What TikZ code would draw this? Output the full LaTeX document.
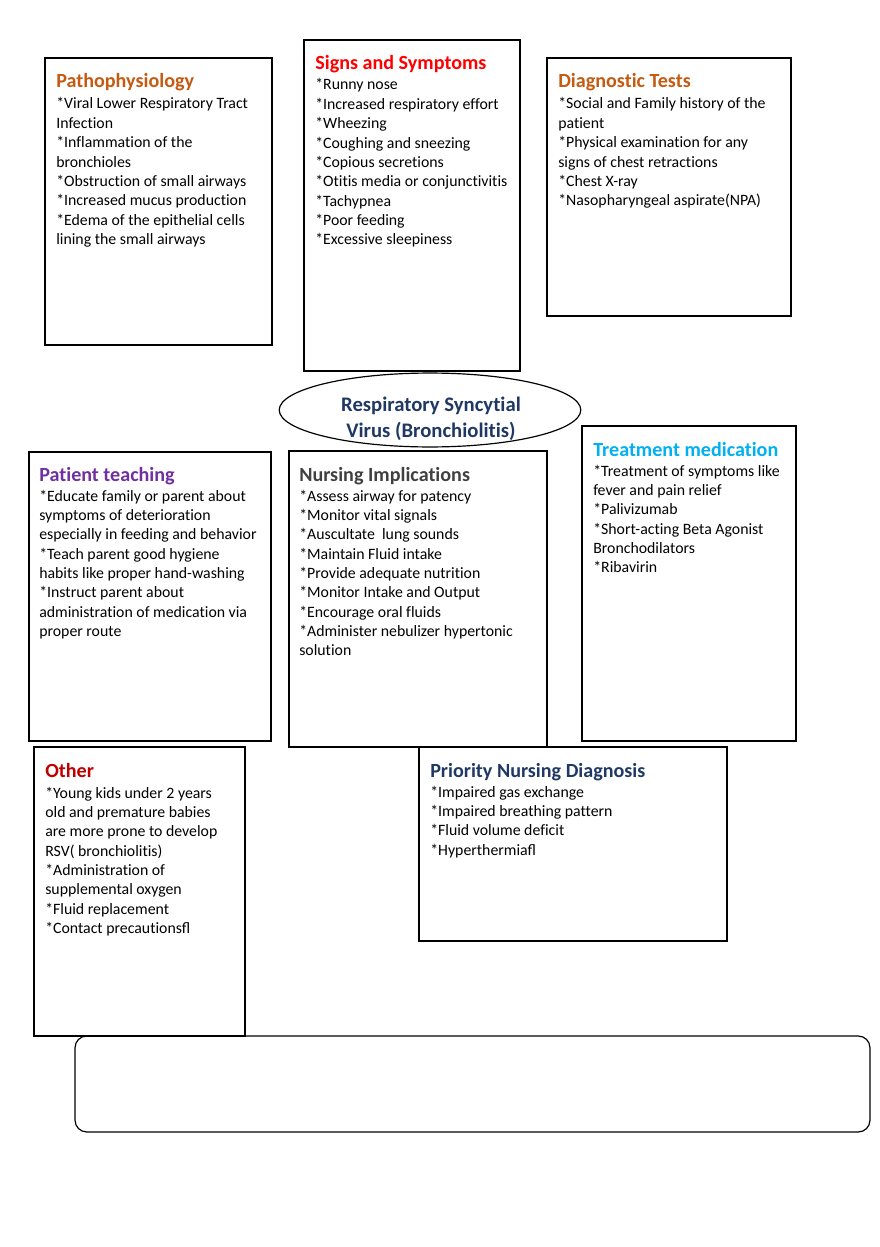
\documentclass[tikz,border=0pt]{standalone}
\usepackage{fontspec}
\setmainfont{Carlito}[Ligatures=NoCommon]
\usetikzlibrary{shapes.geometric}

\definecolor{pathorange}{HTML}{C55A11}
\definecolor{signred}{HTML}{FF0000}
\definecolor{rsvblue}{HTML}{1F3864}
\definecolor{teachpurple}{HTML}{7030A0}
\definecolor{nursegray}{HTML}{404040}
\definecolor{medblue}{HTML}{00B0F0}
\definecolor{otherred}{HTML}{C00000}

\tikzset{
    panel/.style={draw, line width=0.8pt},
    heading/.style={anchor=base west, inner sep=0pt, font=\fontsize{13.6}{16}\selectfont\bfseries},
    entries/.style={anchor=base west, inner sep=0pt, align=left, text width=220pt,
        font=\fontsize{10.7}{13.1}\selectfont,
        execute at begin node={\spaceskip=0pt\xspaceskip=0pt}}
}

\begin{document}
\begin{tikzpicture}[x=0.6765pt, y=-0.6765pt]
        \useasboundingbox (0,0) rectangle (880,1247);
        % boxes
        \draw[panel] (45,58) rectangle (272,345);
        \draw[panel] (304,40) rectangle (520,371);
        \draw[panel] (547,58) rectangle (791,316);
        \draw[panel] (29,452) rectangle (271,741);
        \draw[panel] (289,451) rectangle (547,747);
        \draw[panel] (582,426) rectangle (796,741);
        \draw[panel] (34,747) rectangle (245,1036);
        \draw[panel] (419,747) rectangle (727,941);
        \draw[panel, rounded corners=8pt] (75,1036) rectangle (870,1132);
        % centre
        \node[ellipse, draw, line width=0.8pt, fill=white, minimum width=204pt, minimum height=50pt,
            inner sep=0pt] (rsv) at (430,410) {};
        \node[align=center, inner sep=0pt, text=rsvblue, font=\fontsize{14}{17.5}\selectfont\bfseries]
            (rsvtext) at (431,419) {Respiratory Syncytial\\Virus (Bronchiolitis)};

        \node[heading, text=pathorange] (pathohead) at (56,88) {Pathophysiology};
        \node[entries] (pathotext) at (56,109) {*Viral Lower Respiratory Tract\\Infection\\{}*Inflammation of the\\bronchioles\\{}*Obstruction of small airways\\{}*Increased mucus production\\{}*Edema of the epithelial cells\\lining the small airways};

        \node[heading, text=signred] (signshead) at (315,70) {Signs and Symptoms};
        \node[entries] (signstext) at (315,90) {*Runny nose\\{}*Increased respiratory effort\\{}*Wheezing\\{}*Coughing and sneezing\\{}*Copious secretions\\{}*Otitis media or conjunctivitis\\{}*Tachypnea\\{}*Poor feeding\\{}*Excessive sleepiness};

        \node[heading, text=pathorange] (diaghead) at (558,88) {Diagnostic Tests};
        \node[entries] (diagtext) at (558,109) {*Social and Family history of the\\patient\\{}*Physical examination for any\\signs of chest retractions\\{}*Chest X-ray\\{}*Nasopharyngeal aspirate(NPA)};

        \node[heading, text=teachpurple] (teachhead) at (39,481) {Patient teaching};
        \node[entries] (teachtext) at (39,501) {*Educate family or parent about\\symptoms of deterioration\\especially in feeding and behavior\\{}*Teach parent good hygiene\\habits like proper hand-washing\\{}*Instruct parent about\\administration of medication via\\proper route};

        \node[heading, text=nursegray] (nursehead) at (299,481) {Nursing Implications};
        \node[entries] (nursetext) at (299,501) {*Assess airway for patency\\{}*Monitor vital signals\\{}*Auscultate\ \ lung sounds\\{}*Maintain Fluid intake\\{}*Provide adequate nutrition\\{}*Monitor Intake and Output\\{}*Encourage oral fluids\\{}*Administer nebulizer hypertonic\\solution};

        \node[heading, text=medblue] (medhead) at (593,456) {Treatment medication};
        \node[entries] (medtext) at (593,476) {*Treatment of symptoms like\\fever and pain relief\\{}*Palivizumab\\{}*Short-acting Beta Agonist\\Bronchodilators\\{}*Ribavirin};

        \node[heading, text=otherred] (otherhead) at (45,777) {Other};
        \node[entries] (othertext) at (45,798) {*Young kids under 2 years\\old and premature babies\\are more prone to develop\\RSV( bronchiolitis)\\{}*Administration of\\supplemental oxygen\\{}*Fluid replacement\\{}*Contact precautions^^^^fb02};

        \node[heading, text=rsvblue] (diaghead2) at (430,777) {Priority Nursing Diagnosis};
        \node[entries] (diagtext2) at (430,797) {*Impaired gas exchange\\{}*Impaired breathing pattern\\{}*Fluid volume deficit\\{}*Hyperthermia^^^^fb02};
    \end{tikzpicture}
\end{document}
